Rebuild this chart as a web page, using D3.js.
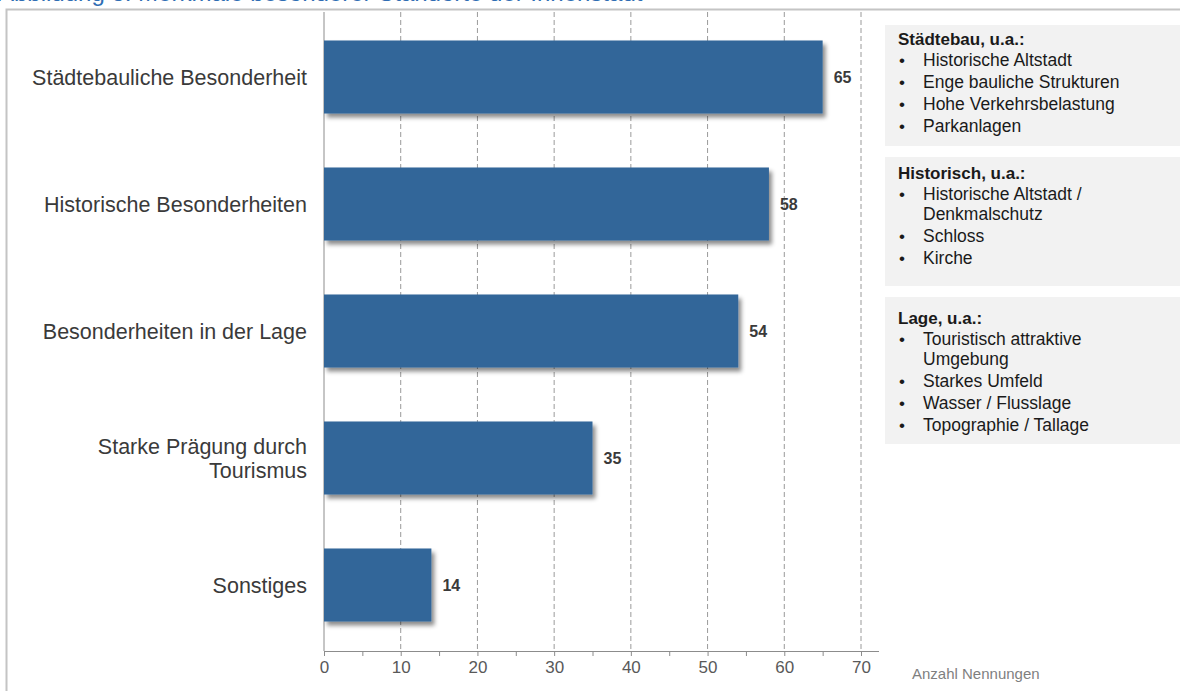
<!DOCTYPE html>
<html>
<head>
<meta charset="utf-8">
<script src="https://cdn.jsdelivr.net/npm/d3@7"></script>
<style>
  html, body { margin: 0; padding: 0; background: #fff; }
  svg { display: block; font-family: "Liberation Sans", Arial, sans-serif; }
</style>
</head>
<body>
<svg id="chart" width="1180" height="691"></svg>
<script>
// Merkmale besonderer Innenstädte – Anzahl Nennungen
const categories = [
  ["Städtebauliche Besonderheit"],
  ["Historische Besonderheiten"],
  ["Besonderheiten in der Lage"],
  ["Starke Prägung durch", "Tourismus"],
  ["Sonstiges"]
];
const values = [65, 58, 54, 35, 14];
const xTicks = [0, 10, 20, 30, 40, 50, 60, 70];
const axisTitle = "Anzahl Nennungen";
const titleText = "Abbildung 3: Merkmale besonderer Standorte der Innenstadt";

const noteHeadings = ["Städtebau, u.a.:", "Historisch, u.a.:", "Lage, u.a.:"];
const noteItems = [
  [["Historische Altstadt"], ["Enge bauliche Strukturen"], ["Hohe Verkehrsbelastung"], ["Parkanlagen"]],
  [["Historische Altstadt /", "Denkmalschutz"], ["Schloss"], ["Kirche"]],
  [["Touristisch attraktive", "Umgebung"], ["Starkes Umfeld"], ["Wasser / Flusslage"], ["Topographie / Tallage"]]
];

const svg = d3.select("#chart");
const W = 1180, H = 691;

// layout
const plot = { left: 324, right: 861, top: 12, axisY: 651 };
const barColor = "#336699";
const textColor = "#3a3a3a";

const defs = svg.append("defs");
const shadow = defs.append("filter").attr("id", "barShadow")
  .attr("x", "-5%").attr("y", "-10%").attr("width", "115%").attr("height", "130%");
shadow.append("feDropShadow")
  .attr("dx", 3).attr("dy", 4).attr("stdDeviation", 2)
  .attr("flood-color", "#000").attr("flood-opacity", 0.45);

// caption running off the top edge
svg.append("text")
  .attr("x", -2).attr("y", 1)
  .attr("fill", "#2f6db3")
  .attr("font-size", 24)
  .text(titleText);

// outer frame
svg.append("path")
  .attr("d", `M6.5,${H + 2} V9.5 H${W + 2}`)
  .attr("fill", "none").attr("stroke", "#c4c4c4").attr("stroke-width", 2);

// scales
const x = d3.scaleLinear().domain([0, 70]).range([plot.left, plot.right]);
const y = d3.scaleBand()
  .domain(d3.range(categories.length))
  .range([13.5, 648.5])
  .paddingInner(0.425)
  .paddingOuter(0.2125);

// dashed gridlines
svg.append("g").selectAll("line")
  .data(xTicks.filter(d => d > 0))
  .join("line")
  .attr("x1", d => x(d)).attr("x2", d => x(d))
  .attr("y1", plot.top).attr("y2", plot.axisY)
  .attr("stroke", "#9a9a9a").attr("stroke-width", 1)
  .attr("stroke-dasharray", "5,3");

// vertical base line
svg.append("line")
  .attr("x1", x(0)).attr("x2", x(0))
  .attr("y1", plot.top).attr("y2", plot.axisY)
  .attr("stroke", "#8c8c8c").attr("stroke-width", 1);

// bars
svg.append("g").selectAll("rect")
  .data(values)
  .join("rect")
  .attr("x", x(0))
  .attr("y", (d, i) => y(i))
  .attr("width", d => x(d) - x(0))
  .attr("height", y.bandwidth())
  .attr("fill", barColor)
  .attr("filter", "url(#barShadow)");

// value labels
svg.append("g").selectAll("text")
  .data(values)
  .join("text")
  .attr("x", d => x(d) + 11)
  .attr("y", (d, i) => y(i) + y.bandwidth() / 2)
  .attr("dy", "0.36em")
  .attr("font-size", 16).attr("font-weight", "bold")
  .attr("fill", textColor)
  .text(d => d);

// category labels
const catG = svg.append("g");
categories.forEach((lines, i) => {
  const cy = y(i) + y.bandwidth() / 2;
  const lh = 24;
  const t = catG.append("text")
    .attr("text-anchor", "end")
    .attr("font-size", 21.5)
    .attr("fill", textColor);
  lines.forEach((ln, j) => {
    t.append("tspan")
      .attr("x", 307)
      .attr("y", cy + (j - (lines.length - 1) / 2) * lh)
      .attr("dy", "0.35em")
      .text(ln);
  });
});

// x axis
const axis = d3.axisBottom(x)
  .tickValues(d3.range(0, 71, 5))
  .tickSize(5)
  .tickFormat(d => (d % 10 === 0 ? d : ""));
const axG = svg.append("g")
  .attr("transform", `translate(0,${plot.axisY})`)
  .attr("font-size", 17)
  .call(axis);
axG.attr("font-size", 17).attr("font-family", "Liberation Sans, Arial, sans-serif");
axG.select(".domain").attr("d", `M${x(0)},0.5H${x(70) + 18}`).attr("stroke", "#8c8c8c");
axG.selectAll(".tick line").attr("stroke", "#8c8c8c");
axG.selectAll(".tick text")
  .attr("fill", "#595959")
  .attr("y", 10);

svg.append("text")
  .attr("x", 912).attr("y", 679)
  .attr("font-size", 15)
  .attr("fill", "#7f7f7f")
  .text(axisTitle);

// note boxes on the right
const boxes = [
  { top: 25, bottom: 146, first: 45 },
  { top: 157, bottom: 286, first: 179 },
  { top: 297, bottom: 444, first: 324 }
];
const wrapH = 20.5, itemH = 22;
const noteG = svg.append("g");
boxes.forEach((b, k) => {
  noteG.append("rect")
    .attr("x", 885).attr("y", b.top)
    .attr("width", W - 885 + 5).attr("height", b.bottom - b.top)
    .attr("fill", "#f2f2f2");
  noteG.append("text")
    .attr("x", 898).attr("y", b.first)
    .attr("font-size", 17).attr("font-weight", "bold")
    .attr("fill", "#1a1a1a")
    .text(noteHeadings[k]);
  let yy = b.first + wrapH;
  noteItems[k].forEach((item, n) => {
    if (n > 0) yy += itemH;
    noteG.append("text")
      .attr("x", 899).attr("y", yy)
      .attr("font-size", 17).attr("fill", "#1a1a1a")
      .text("•");
    item.forEach((ln, j) => {
      if (j > 0) yy += wrapH;
      noteG.append("text")
        .attr("x", 923).attr("y", yy)
        .attr("font-size", 17.5).attr("fill", "#1a1a1a")
        .text(ln);
    });
  });
});
</script>
</body>
</html>
